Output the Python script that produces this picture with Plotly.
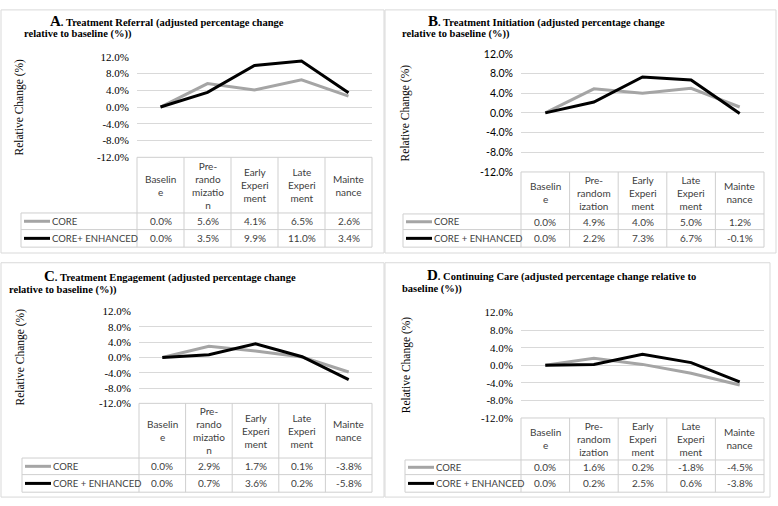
import plotly.graph_objects as go

W, H = 778, 506

categories = ["Baseline", "Pre-randomization", "Early Experiment", "Late Experiment", "Maintenance"]
headers_ac = ["Baselin<br>e", "Pre-<br>rando<br>mizatio<br>n", "Early<br>Experi<br>ment", "Late<br>Experi<br>ment", "Mainte<br>nance"]
headers_bd = ["Baselin<br>e", "Pre-<br>random<br>ization", "Early<br>Experi<br>ment", "Late<br>Experi<br>ment", "Mainte<br>nance"]

a_core = [0.0, 5.6, 4.1, 6.5, 2.6]
a_enh = [0.0, 3.5, 9.9, 11.0, 3.4]
b_core = [0.0, 4.9, 4.0, 5.0, 1.2]
b_enh = [0.0, 2.2, 7.3, 6.7, -0.1]
c_core = [0.0, 2.9, 1.7, 0.1, -3.8]
c_enh = [0.0, 0.7, 3.6, 0.2, -5.8]
d_core = [0.0, 1.6, 0.2, -1.8, -4.5]
d_enh = [0.0, 0.2, 2.5, 0.6, -3.8]

y_ticks = [-12, -8, -4, 0, 4, 8, 12]
y_tick_labels = ["-12.0%", "-8.0%", "-4.0%", "0.0%", "4.0%", "8.0%", "12.0%"]

titles = [
    ("A", "Treatment Referral (adjusted percentage change", "relative to baseline (%))"),
    ("B", "Treatment Initiation (adjusted percentage change", "relative to baseline (%))"),
    ("C", "Treatment Engagement (adjusted percentage change", "relative to baseline (%))"),
    ("D", "Continuing Care (adjusted percentage change relative to", "baseline (%))"),
]

GRAY = "#a5a5a5"
BLACK = "#000000"
GRID = "#d9d9d9"
BORDER = "#cfcfcf"
TXT = "#404040"
SERIF = "Liberation Serif"
SANS = "Lato"

def px(x):
    return x / W

def py(y):
    return 1 - y / H

# layout geometry per panel (pixels)
panels = [
    dict(data=(a_core, a_enh), names=("CORE", "CORE+ ENHANCED"), heads=headers_ac,
         box=(1, 4, 384, 253), x0=137, x1=372, ytop=52, ybot=155, hb=212, r1=229, tb=247,
         lab=21, t1=(48, 15), t2=(22, 29), ytl=(20, 104), tickfont=SERIF, ticksize=11),
    dict(data=(b_core, b_enh), names=("CORE", "CORE + ENHANCED"), heads=headers_bd,
         box=(385, 4, 776, 253), x0=521, x1=764, ytop=49, ybot=170, hb=213, r1=229, tb=247,
         lab=403, t1=(426, 15), t2=(400, 29), ytl=(405, 110), tickfont=SANS, ticksize=10.5),
    dict(data=(c_core, c_enh), names=("CORE", "CORE + ENHANCED"), heads=headers_ac,
         box=(1, 263, 384, 503), x0=139, x1=372, ytop=313, ybot=407, hb=463, r1=480, tb=498,
         lab=22, t1=(42, 277), t2=(7, 291), ytl=(20, 360), tickfont=SERIF, ticksize=11),
    dict(data=(d_core, d_enh), names=("CORE", "CORE + ENHANCED"), heads=headers_bd,
         box=(385, 263, 770, 503), x0=521, x1=764, ytop=314, ybot=422, hb=465, r1=480, tb=498,
         lab=405, t1=(425, 276), t2=(400, 290), ytl=(406, 368), tickfont=SERIF, ticksize=11),
]

fig = go.Figure()
shapes = []
annotations = []

for i, p in enumerate(panels):
    k = "" if i == 0 else str(i + 1)
    xa, ya = "x" + k, "y" + k
    core, enh = p["data"]
    for vals, color, nm in ((core, GRAY, "CORE"), (enh, BLACK, "CORE + ENHANCED")):
        fig.add_trace(go.Scatter(
            x=categories, y=[v / 100 for v in vals], mode="lines", name=nm,
            line=dict(color=color, width=3), xaxis=xa, yaxis=ya, showlegend=False,
            hoverinfo="skip"))
    fig.update_layout(**{
        "xaxis" + k: dict(domain=[px(p["x0"]), px(p["x1"])], range=[-0.5, 4.5],
                          showgrid=False, showticklabels=False, zeroline=False,
                          showline=False, anchor=ya, fixedrange=True),
        "yaxis" + k: dict(domain=[py(p["ybot"]), py(p["ytop"])], range=[-0.12, 0.12],
                          tickmode="array", tickvals=[t / 100 for t in y_ticks],
                          ticktext=y_tick_labels,
                          showgrid=True, gridcolor=GRID, gridwidth=1, zeroline=False,
                          showline=False, ticks="", ticklabelstandoff=7,
                          tickfont=dict(family=p["tickfont"], size=p["ticksize"], color="#000"),
                          anchor=xa, fixedrange=True),
    })

    # panel border
    bx0, by0, bx1, by1 = p["box"]
    shapes.append(dict(type="rect", xref="paper", yref="paper", x0=px(bx0), x1=px(bx1),
                       y0=py(by1), y1=py(by0), line=dict(color="#d9d9d9", width=1),
                       layer="below"))

    # table
    x0, x1, top, hb, r1, tb, lab = p["x0"], p["x1"], p["ybot"], p["hb"], p["r1"], p["tb"], p["lab"]
    cw = (x1 - x0) / len(categories)
    def hline(y, xa_, xb_):
        shapes.append(dict(type="line", xref="paper", yref="paper", x0=px(xa_), x1=px(xb_),
                           y0=py(y), y1=py(y), line=dict(color=BORDER, width=1)))
    def vline(x, ya_, yb_):
        shapes.append(dict(type="line", xref="paper", yref="paper", x0=px(x), x1=px(x),
                           y0=py(ya_), y1=py(yb_), line=dict(color=BORDER, width=1)))
    hline(top, x0, x1)
    hline(hb, lab, x1)
    hline(r1, lab, x1)
    hline(tb, lab, x1)
    vline(lab, hb, tb)
    for j in range(len(categories) + 1):
        vline(x0 + j * cw, top, tb)

    for j, h in enumerate(p["heads"]):
        cx = x0 + (j + 0.5) * cw
        annotations.append(dict(xref="paper", yref="paper", x=px(cx), y=py((top + hb) / 2),
                                text=h, showarrow=False, xanchor="center", yanchor="middle",
                                font=dict(family=SANS, size=10, color=TXT), align="center"))
    rows = [((hb + r1) / 2, core, GRAY, p["names"][0]), ((r1 + tb) / 2, enh, BLACK, p["names"][1])]
    for (ry, vals, color, nm) in rows:
        shapes.append(dict(type="line", xref="paper", yref="paper", x0=px(lab + 3), x1=px(lab + 29),
                           y0=py(ry), y1=py(ry), line=dict(color=color, width=3)))
        annotations.append(dict(xref="paper", yref="paper", x=px(lab + 29), y=py(ry), text=nm,
                                showarrow=False, xanchor="left", yanchor="middle",
                                font=dict(family=SANS, size=9.5, color=TXT)))
        for j, v in enumerate(vals):
            cx = x0 + (j + 0.5) * cw
            annotations.append(dict(xref="paper", yref="paper", x=px(cx), y=py(ry),
                                    text=f"{v:.1f}%", showarrow=False, xanchor="center",
                                    yanchor="middle", font=dict(family=SANS, size=10, color=TXT)))

    # titles
    letter, l1, l2 = titles[i]
    annotations.append(dict(xref="paper", yref="paper", x=px(p["t1"][0]), y=py(p["t1"][1]),
                            text=f"<b><span style='font-size:15px'>{letter}</span>. {l1}</b>",
                            showarrow=False, xanchor="left", yanchor="middle",
                            font=dict(family=SERIF, size=10.5, color="#000")))
    annotations.append(dict(xref="paper", yref="paper", x=px(p["t2"][0]), y=py(p["t2"][1]),
                            text=f"<b>{l2}</b>", showarrow=False, xanchor="left", yanchor="middle",
                            font=dict(family=SERIF, size=10.5, color="#000")))
    # y-axis title
    annotations.append(dict(xref="paper", yref="paper", x=px(p["ytl"][0]), y=py(p["ytl"][1]),
                            text="Relative Change (%)", showarrow=False, textangle=-90,
                            xanchor="center", yanchor="middle",
                            font=dict(family=SERIF, size=11.5, color="#000")))

fig.update_layout(width=W, height=H, margin=dict(l=0, r=0, t=0, b=0),
                  paper_bgcolor="white", plot_bgcolor="white",
                  shapes=shapes, annotations=annotations, showlegend=False)

fig.write_html("out.html", config={"displayModeBar": False, "staticPlot": True},
               post_script="document.body.style.margin='0';document.body.style.padding='0';"
                           "document.documentElement.style.overflow='hidden';")
